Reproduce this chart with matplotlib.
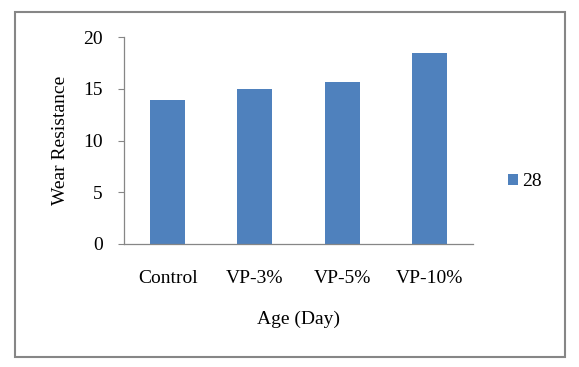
from matplotlib import pyplot as plt
from matplotlib.patches import Rectangle

categories = ['Control', 'VP-3%', 'VP-5%', 'VP-10%']
values_28 = [13.9, 15.0, 15.7, 18.5]
series_name = '28'

plt.rcParams['font.family'] = ['Liberation Serif', 'DejaVu Serif']

W, H = 579, 367
fig = plt.figure(figsize=(W / 100, H / 100), dpi=100)

# outer chart border
fig.patches.append(Rectangle((15 / W, 1 - 357 / H), (565 - 15) / W, (357 - 12) / H,
                             transform=fig.transFigure, fill=False,
                             edgecolor='#868686', linewidth=1.5))

ax = fig.add_axes([124 / W, 1 - 244 / H, (473 - 124) / W, (244 - 37) / H])
x = range(len(categories))
ax.bar(x, values_28, width=0.4, color='#4F81BD', label=series_name)

ax.set_xlim(-0.5, len(categories) - 0.5)
ax.set_ylim(0, 20)
ax.set_yticks([0, 5, 10, 15, 20])
ax.set_xticks(list(x))
ax.set_xticklabels(categories)

for s in ['top', 'right']:
    ax.spines[s].set_visible(False)
for s in ['left', 'bottom']:
    ax.spines[s].set_color('#868686')
    ax.spines[s].set_linewidth(0.9)

ax.tick_params(axis='y', length=4.3, color='#868686', labelsize=14, pad=11)
ax.tick_params(axis='x', length=0, labelsize=14, pad=19)

ax.set_ylabel('Wear Resistance', fontsize=14, labelpad=10)
ax.set_xlabel('Age (Day)', fontsize=14, labelpad=17)

ax.legend(loc='center left', bbox_to_anchor=(1.05, 0.3), frameon=False,
          fontsize=14, handlelength=0.5, handleheight=0.5, handletextpad=0.25)

fig.savefig('out.png', dpi=100)
